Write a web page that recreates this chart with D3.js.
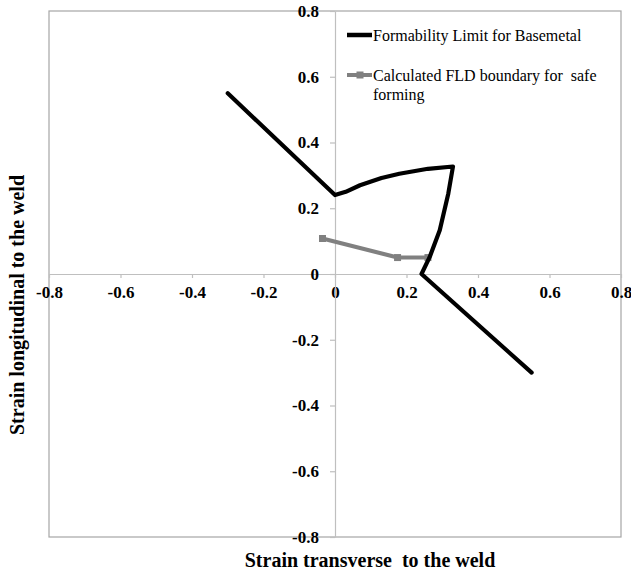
<!DOCTYPE html>
<html>
<head>
<meta charset="utf-8">
<script src="https://cdn.jsdelivr.net/npm/d3@7"></script>
<style>
  html, body { margin: 0; padding: 0; background: #fff; }
  svg { display: block; }
  text { font-family: "Liberation Serif", "Times New Roman", serif; }
</style>
</head>
<body>
<svg id="chart" width="631" height="574"></svg>
<script>
// ---- data ----
const baseX = [-0.3, 0, 0.03, 0.07, 0.13, 0.18, 0.26, 0.33, 0.317, 0.293, 0.265, 0.242, 0.55];
const baseY = [0.55, 0.24, 0.25, 0.27, 0.292, 0.305, 0.32, 0.327, 0.245, 0.133, 0.052, 0, -0.3];
const safeX = [-0.035, 0.175, 0.26];
const safeY = [0.108, 0.05, 0.05];
const tickValues = [-0.8, -0.6, -0.4, -0.2, 0, 0.2, 0.4, 0.6, 0.8];
const tickLabels = ["-0.8", "-0.6", "-0.4", "-0.2", "0", "0.2", "0.4", "0.6", "0.8"];
const seriesNames = ["Formability Limit for Basemetal", "Calculated FLD boundary for  safe", "forming"];
const xTitle = "Strain transverse  to the weld";
const yTitle = "Strain longitudinal to the weld";

const svg = d3.select("#chart");
const x = d3.scaleLinear().domain([-0.8, 0.8]).range([49, 621]);
const y = d3.scaleLinear().domain([-0.8, 0.8]).range([537, 11]);
const fmt = d => tickLabels[tickValues.indexOf(d)];

// plot border
svg.append("rect")
  .attr("x", x(-0.8)).attr("y", y(0.8))
  .attr("width", x(0.8) - x(-0.8)).attr("height", y(-0.8) - y(0.8))
  .attr("fill", "none").attr("stroke", "#a6a6a6").attr("stroke-width", 1.2);

// axes
const xAxis = d3.axisBottom(x).tickValues(tickValues).tickFormat(fmt)
  .tickSizeInner(4).tickSizeOuter(0).tickPadding(8);
const yAxis = d3.axisLeft(y).tickValues(tickValues).tickFormat(fmt)
  .tickSizeInner(5).tickSizeOuter(0).tickPadding(11);

const gx = svg.append("g").attr("transform", `translate(0,${y(0)})`).call(xAxis);
const gy = svg.append("g").attr("transform", `translate(${x(0)},0)`).call(yAxis);
[gx, gy].forEach(g => {
  g.select(".domain").attr("stroke", "#bfbfbf").attr("stroke-width", 1.2);
  g.selectAll(".tick line").attr("stroke", "#bfbfbf").attr("stroke-width", 1.2);
  g.selectAll(".tick text")
    .attr("fill", "#000")
    .style("font-family", '"Liberation Serif", serif')
    .style("font-size", "17px")
    .style("font-weight", "bold");
});

// lines
const line = d3.line().x(d => x(d[0])).y(d => y(d[1]));
const safe = safeX.map((v, i) => [v, safeY[i]]);
const base = baseX.map((v, i) => [v, baseY[i]]);

svg.append("path").datum(safe).attr("d", line)
  .attr("fill", "none").attr("stroke", "#808080").attr("stroke-width", 4)
  .attr("stroke-linejoin", "round");
svg.selectAll("rect.mk").data(safe).enter().append("rect")
  .attr("class", "mk")
  .attr("x", d => x(d[0]) - 3.5).attr("y", d => y(d[1]) - 3.5)
  .attr("width", 7).attr("height", 7).attr("fill", "#808080");

svg.append("path").datum(base).attr("d", line)
  .attr("fill", "none").attr("stroke", "#000").attr("stroke-width", 4.2)
  .attr("stroke-linejoin", "round").attr("stroke-linecap", "round");

// legend
const lg = svg.append("g");
lg.append("line").attr("x1", 347).attr("x2", 372).attr("y1", 35).attr("y2", 35)
  .attr("stroke", "#000").attr("stroke-width", 4.5);
lg.append("text").attr("x", 373).attr("y", 40.5).text(seriesNames[0])
  .style("font-size", "16px").attr("fill", "#000");
lg.append("line").attr("x1", 347).attr("x2", 372).attr("y1", 75).attr("y2", 75)
  .attr("stroke", "#808080").attr("stroke-width", 4);
lg.append("rect").attr("x", 356.5).attr("y", 71.5).attr("width", 7).attr("height", 7).attr("fill", "#808080");
lg.append("text").attr("x", 373).attr("y", 80.5).text(seriesNames[1])
  .style("font-size", "16px").style("white-space", "pre").attr("fill", "#000");
lg.append("text").attr("x", 373).attr("y", 99.5).text(seriesNames[2])
  .style("font-size", "16px").attr("fill", "#000");

// axis titles
svg.append("text").attr("x", 370).attr("y", 567).attr("text-anchor", "middle")
  .style("font-size", "20px").style("font-weight", "bold").style("white-space", "pre")
  .attr("fill", "#000").text(xTitle);
svg.append("text").attr("transform", "translate(24,305) rotate(-90)").attr("text-anchor", "middle")
  .style("font-size", "20px").style("font-weight", "bold")
  .attr("fill", "#000").text(yTitle);
</script>
</body>
</html>
